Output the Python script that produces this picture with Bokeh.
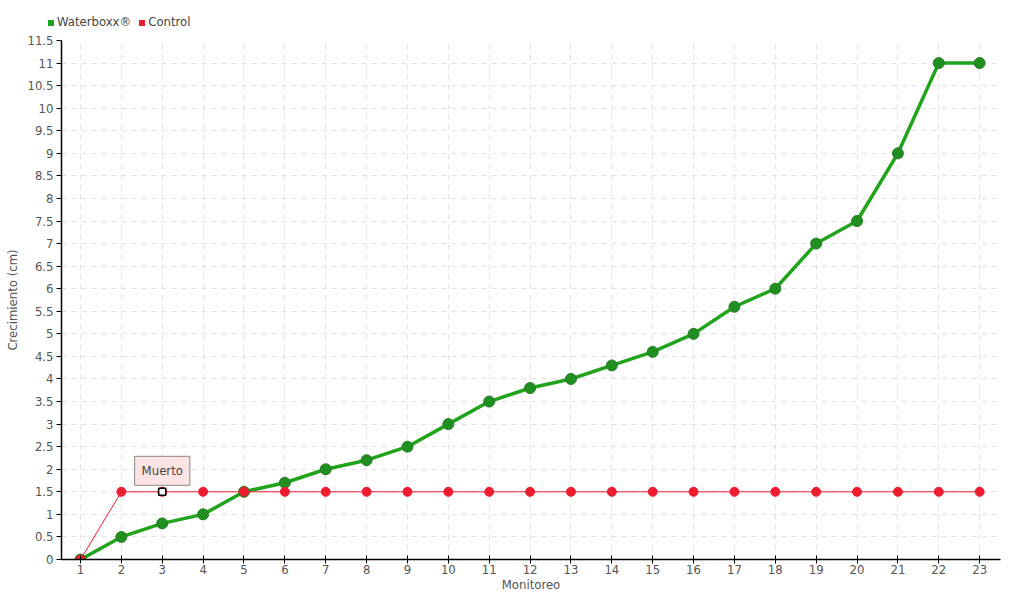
from bokeh.plotting import figure
from bokeh.models import Label, FixedTicker, Range1d, Div
from bokeh.layouts import column
from bokeh.embed import file_html
from bokeh.resources import INLINE

monitoreo = list(range(1, 24))
waterboxx = [0, 0.5, 0.8, 1.0, 1.5, 1.7, 2.0, 2.2, 2.5, 3.0, 3.5, 3.8, 4.0, 4.3, 4.6,
             5.0, 5.6, 6.0, 7.0, 7.5, 9.0, 11.0, 11.0]
control = [0] + [1.5] * 22
y_ticks = [i * 0.5 for i in range(24)]
series_names = ["Waterboxx\u00ae", "Control"]
dead_index = 2  # Monitoreo 3 -> "Muerto"

FONT = "DejaVu Sans Condensed"
GREEN = "#22a31c"
RED = "#ee1c30"

FW, FH = 939, 519
p = figure(frame_width=FW, frame_height=FH, output_backend="svg", toolbar_location=None,
           x_range=Range1d(0.535, 23.51), y_range=Range1d(0, 11.5),
           min_border_left=61, min_border_right=20, min_border_top=8, min_border_bottom=30)
p.outline_line_color = None

p.line(monitoreo, waterboxx, line_color=GREEN, line_width=3.5)
p.scatter(monitoreo, waterboxx, size=11, fill_color="#1f8f1f", line_color="#2a7a2a", line_width=1)
p.line(monitoreo, control, line_color=RED, line_width=1)
p.scatter(monitoreo, control, size=9, fill_color=RED, line_color=RED)
p.scatter([monitoreo[dead_index]], [control[dead_index]], marker="square", size=7,
          fill_color="white", line_color="black", line_width=1.5)

lab = Label(x=monitoreo[dead_index], y=control[dead_index], text="Muerto", y_offset=21,
            text_align="center", text_baseline="middle", text_font=FONT, text_font_size="13px",
            text_color="#444444", background_fill_color="#fde4e4", border_line_color="#888888",
            padding=7)
p.add_layout(lab)

for ax in (p.xaxis[0], p.yaxis[0]):
    ax.major_label_text_font = FONT
    ax.major_label_text_font_size = "13px"
    ax.major_label_text_color = "#555555"
    ax.axis_label_text_font = FONT
    ax.axis_label_text_font_size = "13px"
    ax.axis_label_text_font_style = "normal"
    ax.axis_label_text_color = "#555555"
    ax.axis_line_color = "black"
    ax.axis_line_width = 1.5
    ax.minor_tick_line_color = None
    ax.major_tick_line_color = "black"

p.xaxis.ticker = FixedTicker(ticks=monitoreo)
p.yaxis.ticker = FixedTicker(ticks=y_ticks)
p.yaxis.major_label_overrides = {v: ("{:g}".format(v)) for v in y_ticks}
p.xaxis.axis_label = "Monitoreo"
p.yaxis.axis_label = "Crecimiento (cm)"
p.xaxis.major_tick_in = 4
p.xaxis.major_tick_out = 4
p.yaxis.major_tick_in = 0
p.yaxis.major_tick_out = 5
p.xaxis.major_label_standoff = 1
p.yaxis.major_label_standoff = 3
p.xaxis.axis_label_standoff = 0
p.yaxis.axis_label_standoff = 4

p.xgrid.grid_line_color = "#e2e2e2"
p.ygrid.grid_line_color = "#e2e2e2"
p.xgrid.grid_line_dash = "5 5"
p.ygrid.grid_line_dash = "5 5"

sq = '<span style="display:inline-block;width:6px;height:6px;background:{c};margin-right:3px;vertical-align:middle"></span>'
legend_html = (
    '<div style="font-family:\'DejaVu Sans Condensed\';font-size:13px;color:#444444;'
    'padding:13px 0 0 48px;white-space:nowrap">'
    + sq.format(c=GREEN) + '<span style="vertical-align:middle;margin-right:8px">' + series_names[0] + '</span>'
    + sq.format(c=RED) + '<span style="vertical-align:middle">' + series_names[1] + '</span>'
    + '</div>'
)
legend_div = Div(text=legend_html, width=400, height=32, margin=(0, 0, 0, 0))

layout = column(legend_div, p, spacing=0)
open("out.html", "w").write(file_html(layout, INLINE))
